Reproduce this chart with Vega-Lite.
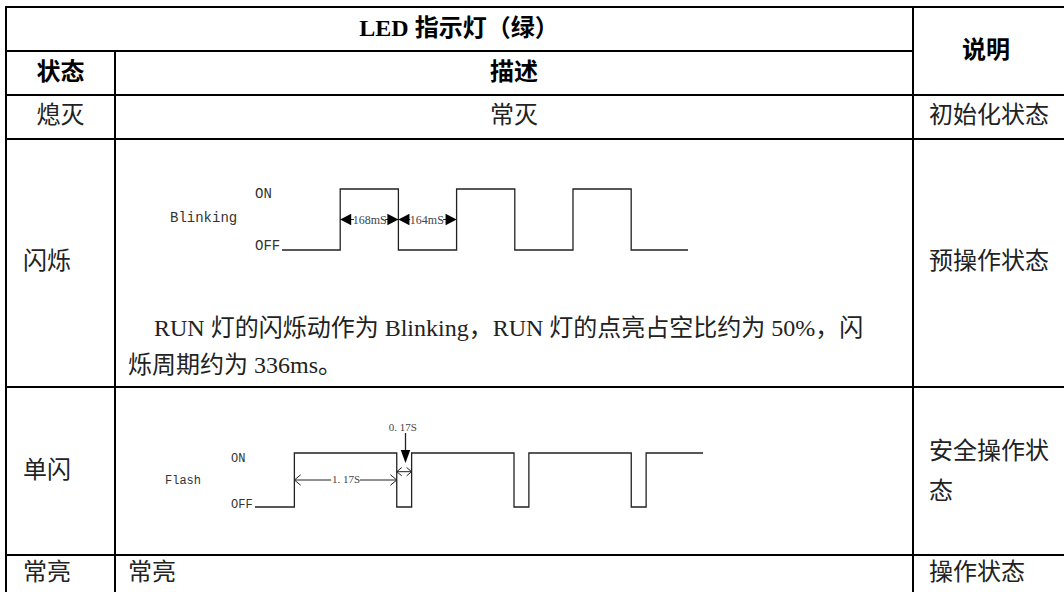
{
  "$schema": "https://vega.github.io/schema/vega-lite/v6.json",
  "width": 1064,
  "height": 592,
  "padding": 0,
  "autosize": {"type": "none"},
  "background": "white",
  "config": {"view": {"stroke": null}},
  "datasets": {
    "grid": [
      {"left": 6, "right": 1064, "top": 7, "bottom": 7},
      {"left": 6, "right": 913, "top": 51, "bottom": 51},
      {"left": 6, "right": 1064, "top": 95, "bottom": 95},
      {"left": 6, "right": 1064, "top": 139, "bottom": 139},
      {"left": 6, "right": 1064, "top": 387, "bottom": 387},
      {"left": 6, "right": 1064, "top": 555, "bottom": 555},
      {"left": 6, "right": 6, "top": 7, "bottom": 592},
      {"left": 115, "right": 115, "top": 51, "bottom": 592},
      {"left": 913, "right": 913, "top": 7, "bottom": 592}
    ],
    "texts": [
      {"role": "head", "text": "LED 指示灯（绿）", "x": 459, "y": 29},
      {"role": "head", "text": "说明", "x": 986, "y": 51},
      {"role": "head", "text": "状态", "x": 60.5, "y": 73},
      {"role": "head", "text": "描述", "x": 514, "y": 73},
      {"role": "center", "text": "熄灭", "x": 60.5, "y": 116},
      {"role": "center", "text": "常灭", "x": 514, "y": 116},
      {"role": "left", "text": "初始化状态", "x": 929, "y": 116},
      {"role": "left", "text": "闪烁", "x": 23, "y": 262},
      {"role": "left", "text": "预操作状态", "x": 929, "y": 262},
      {"role": "para", "text": "RUN 灯的闪烁动作为 Blinking，RUN 灯的点亮占空比约为 50%，闪", "x": 154, "y": 329},
      {"role": "para", "text": "烁周期约为 336ms。", "x": 128, "y": 366},
      {"role": "left", "text": "单闪", "x": 23, "y": 471},
      {"role": "left", "text": "安全操作状", "x": 929, "y": 452},
      {"role": "left", "text": "态", "x": 929, "y": 492},
      {"role": "left", "text": "常亮", "x": 23, "y": 573},
      {"role": "left", "text": "常亮", "x": 128, "y": 573},
      {"role": "left", "text": "操作状态", "x": 929, "y": 573},
      {"role": "blinkLabel", "text": "ON", "x": 255, "y": 198},
      {"role": "blinkLabel", "text": "OFF", "x": 255, "y": 250},
      {"role": "blinkLabel", "text": "Blinking", "x": 170, "y": 222},
      {"role": "flashLabel", "text": "ON", "x": 231, "y": 462},
      {"role": "flashLabel", "text": "OFF", "x": 231, "y": 508},
      {"role": "flashLabel", "text": "Flash", "x": 165, "y": 484}
    ],
    "blink": [
      {"t": -168, "level": 0},
      {"t": 0, "level": 1},
      {"t": 168, "level": 0},
      {"t": 336, "level": 1},
      {"t": 504, "level": 0},
      {"t": 672, "level": 1},
      {"t": 840, "level": 0},
      {"t": 1004, "level": 0}
    ],
    "blinkArrowLines": [
      {"from": 0, "to": 40},
      {"from": 130, "to": 168},
      {"from": 168, "to": 202},
      {"from": 297, "to": 336}
    ],
    "blinkArrowHeads": [
      {"t": 0, "dir": "left"},
      {"t": 168, "dir": "right"},
      {"t": 168, "dir": "left"},
      {"t": 336, "dir": "right"}
    ],
    "blinkSpans": [
      {"mid": 85, "label": "168mS"},
      {"mid": 250, "label": "164mS"}
    ],
    "flash": [
      {"t": -0.45, "level": 0},
      {"t": 0, "level": 1},
      {"t": 1.17, "level": 0},
      {"t": 1.34, "level": 1},
      {"t": 2.51, "level": 0},
      {"t": 2.68, "level": 1},
      {"t": 3.85, "level": 0},
      {"t": 4.02, "level": 1},
      {"t": 4.67, "level": 1}
    ],
    "flashArrowLines": [
      {"from": 0, "to": 0.42, "lv": 0.5},
      {"from": 0.75, "to": 1.17, "lv": 0.5},
      {"from": 1.17, "to": 1.34, "lv": 0.654}
    ],
    "flashPointer": [
      {"t": 1.27, "top": 1.37, "bottom": 1.055, "tip": 0.815}
    ],
    "flashHeads": [
      {"span": "on", "t": 0, "lv": 0.5, "dir": "left"},
      {"span": "on", "t": 1.17, "lv": 0.5, "dir": "right"},
      {"span": "off", "t": 1.17, "lv": 0.654, "dir": "left"},
      {"span": "off", "t": 1.34, "lv": 0.654, "dir": "right"}
    ],
    "flashLabels": [
      {"t": 0.59, "lv": 0.5, "label": "1. 17S"},
      {"t": 1.24, "lv": 1.47, "label": "0. 17S"}
    ]
  },
  "resolve": {"scale": {"x": "independent", "y": "independent", "shape": "independent"}},
  "layer": [
    {
      "layer": [
        {
          "data": {"name": "grid"},
          "mark": {"type": "rule", "color": "#000000", "strokeWidth": 2, "strokeCap": "square"},
          "encoding": {
            "x": {"field": "left", "type": "quantitative", "axis": null, "scale": {"domain": [0, 1064], "range": [0, 1064], "nice": false, "zero": false}},
            "x2": {"field": "right"},
            "y": {"field": "top", "type": "quantitative", "axis": null, "scale": {"domain": [0, 592], "range": [0, 592], "nice": false, "zero": false}},
            "y2": {"field": "bottom"}
          }
        },
        {
          "data": {"name": "texts"},
          "transform": [{"filter": "datum.role === 'head'"}],
          "mark": {"type": "text", "font": "Liberation Serif, Noto Sans CJK SC", "fontSize": 24, "fontWeight": "bold", "align": "center", "baseline": "middle", "color": "#000000"},
          "encoding": {
            "x": {"field": "x", "type": "quantitative", "axis": null, "scale": {"domain": [0, 1064], "range": [0, 1064], "nice": false, "zero": false}},
            "y": {"field": "y", "type": "quantitative", "axis": null, "scale": {"domain": [0, 592], "range": [0, 592], "nice": false, "zero": false}},
            "text": {"field": "text"}
          }
        },
        {
          "data": {"name": "texts"},
          "transform": [{"filter": "datum.role === 'center'"}],
          "mark": {"type": "text", "font": "Liberation Serif, Noto Sans CJK SC", "fontSize": 24, "align": "center", "baseline": "middle", "color": "#222222"},
          "encoding": {
            "x": {"field": "x", "type": "quantitative", "axis": null, "scale": {"domain": [0, 1064], "range": [0, 1064], "nice": false, "zero": false}},
            "y": {"field": "y", "type": "quantitative", "axis": null, "scale": {"domain": [0, 592], "range": [0, 592], "nice": false, "zero": false}},
            "text": {"field": "text"}
          }
        },
        {
          "data": {"name": "texts"},
          "transform": [{"filter": "datum.role === 'left' || datum.role === 'para'"}],
          "mark": {"type": "text", "font": "Liberation Serif, Noto Sans CJK SC", "fontSize": 24, "align": "left", "baseline": "middle", "color": "#222222"},
          "encoding": {
            "x": {"field": "x", "type": "quantitative", "axis": null, "scale": {"domain": [0, 1064], "range": [0, 1064], "nice": false, "zero": false}},
            "y": {"field": "y", "type": "quantitative", "axis": null, "scale": {"domain": [0, 592], "range": [0, 592], "nice": false, "zero": false}},
            "text": {"field": "text"}
          }
        },
        {
          "data": {"name": "texts"},
          "transform": [{"filter": "datum.role === 'blinkLabel'"}],
          "mark": {"type": "text", "font": "Liberation Mono", "fontSize": 14, "align": "left", "baseline": "alphabetic", "color": "#333333"},
          "encoding": {
            "x": {"field": "x", "type": "quantitative", "axis": null, "scale": {"domain": [0, 1064], "range": [0, 1064], "nice": false, "zero": false}},
            "y": {"field": "y", "type": "quantitative", "axis": null, "scale": {"domain": [0, 592], "range": [0, 592], "nice": false, "zero": false}},
            "text": {"field": "text"}
          }
        },
        {
          "data": {"name": "texts"},
          "transform": [{"filter": "datum.role === 'flashLabel'"}],
          "mark": {"type": "text", "font": "Liberation Mono", "fontSize": 12, "align": "left", "baseline": "alphabetic", "color": "#333333"},
          "encoding": {
            "x": {"field": "x", "type": "quantitative", "axis": null, "scale": {"domain": [0, 1064], "range": [0, 1064], "nice": false, "zero": false}},
            "y": {"field": "y", "type": "quantitative", "axis": null, "scale": {"domain": [0, 592], "range": [0, 592], "nice": false, "zero": false}},
            "text": {"field": "text"}
          }
        }
      ]
    },
    {
      "layer": [
        {
          "data": {"name": "blink"},
          "mark": {"type": "line", "interpolate": "step-after", "color": "#222222", "strokeWidth": 1.3},
          "encoding": {
            "x": {"field": "t", "type": "quantitative", "axis": null, "scale": {"domain": [-168, 1004], "range": [282, 688], "nice": false, "zero": false}},
            "y": {"field": "level", "type": "quantitative", "axis": null, "scale": {"domain": [0, 1], "range": [250, 189], "nice": false, "zero": false}}
          }
        },
        {
          "data": {"name": "blinkArrowLines"},
          "mark": {"type": "rule", "color": "#222222", "strokeWidth": 1},
          "encoding": {
            "x": {"field": "from", "type": "quantitative", "axis": null, "scale": {"domain": [-168, 1004], "range": [282, 688], "nice": false, "zero": false}},
            "x2": {"field": "to"},
            "y": {"datum": 0.5, "type": "quantitative", "axis": null, "scale": {"domain": [0, 1], "range": [250, 189], "nice": false, "zero": false}}
          }
        },
        {
          "data": {"name": "blinkArrowHeads"},
          "mark": {"type": "point", "filled": true, "size": 110, "color": "#000000", "opacity": 1, "strokeWidth": 0},
          "encoding": {
            "x": {"field": "t", "type": "quantitative", "axis": null, "scale": {"domain": [-168, 1004], "range": [282, 688], "nice": false, "zero": false}},
            "y": {"datum": 0.5, "type": "quantitative", "axis": null, "scale": {"domain": [0, 1], "range": [250, 189], "nice": false, "zero": false}},
            "shape": {"field": "dir", "type": "nominal", "legend": null, "scale": {"domain": ["left", "right"], "range": ["M0,0L2.1,-1.1L2.1,1.1Z", "M0,0L-2.1,-1.1L-2.1,1.1Z"]}}
          }
        },
        {
          "data": {"name": "blinkSpans"},
          "mark": {"type": "text", "font": "Liberation Serif", "fontSize": 12, "align": "center", "baseline": "middle", "color": "#444444"},
          "encoding": {
            "x": {"field": "mid", "type": "quantitative", "axis": null, "scale": {"domain": [-168, 1004], "range": [282, 688], "nice": false, "zero": false}},
            "y": {"datum": 0.5, "type": "quantitative", "axis": null, "scale": {"domain": [0, 1], "range": [250, 189], "nice": false, "zero": false}},
            "text": {"field": "label"}
          }
        }
      ]
    },
    {
      "layer": [
        {
          "data": {"name": "flash"},
          "mark": {"type": "line", "interpolate": "step-after", "color": "#222222", "strokeWidth": 1.3},
          "encoding": {
            "x": {"field": "t", "type": "quantitative", "axis": null, "scale": {"domain": [-0.45, 4.67], "range": [255, 703], "nice": false, "zero": false}},
            "y": {"field": "level", "type": "quantitative", "axis": null, "scale": {"domain": [0, 1], "range": [507, 453], "nice": false, "zero": false}}
          }
        },
        {
          "data": {"name": "flashArrowLines"},
          "mark": {"type": "rule", "color": "#222222", "strokeWidth": 1},
          "encoding": {
            "x": {"field": "from", "type": "quantitative", "axis": null, "scale": {"domain": [-0.45, 4.67], "range": [255, 703], "nice": false, "zero": false}},
            "x2": {"field": "to"},
            "y": {"field": "lv", "type": "quantitative", "axis": null, "scale": {"domain": [0, 1], "range": [507, 453], "nice": false, "zero": false}}
          }
        },
        {
          "data": {"name": "flashPointer"},
          "mark": {"type": "rule", "color": "#222222", "strokeWidth": 1.3},
          "encoding": {
            "x": {"field": "t", "type": "quantitative", "axis": null, "scale": {"domain": [-0.45, 4.67], "range": [255, 703], "nice": false, "zero": false}},
            "y": {"field": "top", "type": "quantitative", "axis": null, "scale": {"domain": [0, 1], "range": [507, 453], "nice": false, "zero": false}},
            "y2": {"field": "bottom"}
          }
        },
        {
          "data": {"name": "flashPointer"},
          "mark": {"type": "point", "filled": true, "size": 100, "color": "#000000", "opacity": 1, "strokeWidth": 0, "shape": "M0,0L-0.95,-2.6L0.95,-2.6Z"},
          "encoding": {
            "x": {"field": "t", "type": "quantitative", "axis": null, "scale": {"domain": [-0.45, 4.67], "range": [255, 703], "nice": false, "zero": false}},
            "y": {"field": "tip", "type": "quantitative", "axis": null, "scale": {"domain": [0, 1], "range": [507, 453], "nice": false, "zero": false}}
          }
        },
        {
          "data": {"name": "flashHeads"},
          "transform": [{"filter": "datum.span === 'on'"}],
          "mark": {"type": "point", "filled": false, "size": 40, "color": "#222222", "opacity": 1, "strokeWidth": 1},
          "encoding": {
            "x": {"field": "t", "type": "quantitative", "axis": null, "scale": {"domain": [-0.45, 4.67], "range": [255, 703], "nice": false, "zero": false}},
            "y": {"field": "lv", "type": "quantitative", "axis": null, "scale": {"domain": [0, 1], "range": [507, 453], "nice": false, "zero": false}},
            "shape": {"field": "dir", "type": "nominal", "legend": null, "scale": {"domain": ["left", "right"], "range": ["M2,-1.67L0,0L2,1.67", "M-2,-1.67L0,0L-2,1.67"]}}
          }
        },
        {
          "data": {"name": "flashHeads"},
          "transform": [{"filter": "datum.span === 'off'"}],
          "mark": {"type": "point", "filled": false, "size": 25, "color": "#222222", "opacity": 1, "strokeWidth": 1},
          "encoding": {
            "x": {"field": "t", "type": "quantitative", "axis": null, "scale": {"domain": [-0.45, 4.67], "range": [255, 703], "nice": false, "zero": false}},
            "y": {"field": "lv", "type": "quantitative", "axis": null, "scale": {"domain": [0, 1], "range": [507, 453], "nice": false, "zero": false}},
            "shape": {"field": "dir", "type": "nominal", "legend": null, "scale": {"domain": ["left", "right"], "range": ["M2,-1.67L0,0L2,1.67", "M-2,-1.67L0,0L-2,1.67"]}}
          }
        },
        {
          "data": {"name": "flashLabels"},
          "mark": {"type": "text", "font": "Liberation Serif", "fontSize": 11, "align": "center", "baseline": "middle", "color": "#444444"},
          "encoding": {
            "x": {"field": "t", "type": "quantitative", "axis": null, "scale": {"domain": [-0.45, 4.67], "range": [255, 703], "nice": false, "zero": false}},
            "y": {"field": "lv", "type": "quantitative", "axis": null, "scale": {"domain": [0, 1], "range": [507, 453], "nice": false, "zero": false}},
            "text": {"field": "label"}
          }
        }
      ]
    }
  ]
}
